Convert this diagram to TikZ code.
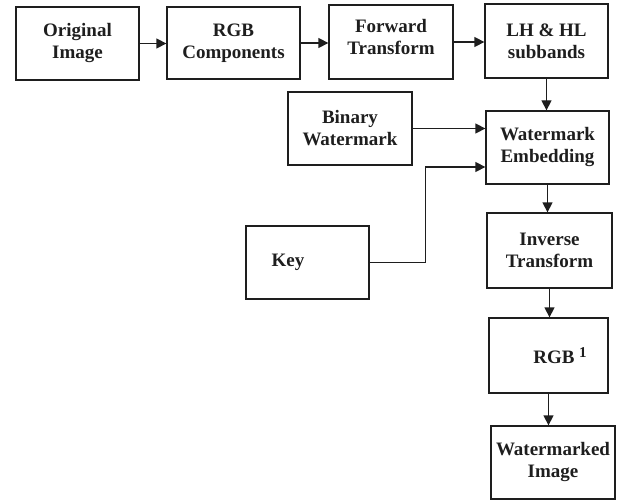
\documentclass[tikz,border=0pt]{standalone}
\usepackage{fontspec}
\setmainfont{Liberation Serif}
\usetikzlibrary{arrows.meta, positioning}
\definecolor{linegray}{RGB}{30,30,30}
\tikzset{
  blk/.style={draw=linegray, line width=1.3pt, align=center, text=linegray,
              font=\bfseries\fontsize{19}{22}\selectfont, inner sep=2pt},
  arr/.style={-{Triangle[length=10pt,width=10pt]}, line width=1.3pt, color=linegray},
}
\begin{document}
\begin{tikzpicture}[x=1pt, y=-1pt]
  \useasboundingbox (0,0) rectangle (618,500);
  % top row
  \node[blk, minimum width=123pt, minimum height=73pt] (orig) at (77.5,43.5) {Original\\Image};
  \node[blk, minimum width=133pt, minimum height=72pt] (rgb) at (233.5,43) {RGB\\Components};
  \node[blk, minimum width=124pt, minimum height=74pt] (fwd) at (391,42) {Forward\\Transform\\[-12pt]};
  \node[blk, minimum width=123pt, minimum height=74pt] (lhhl) at (546.5,41) {LH \& HL\\subbands};
  % inputs
  \node[blk, minimum width=124pt, minimum height=73pt] (bin) at (350,128.5) {Binary\\Watermark};
  \node[blk, minimum width=123pt, minimum height=73pt] (key) at (307.5,262.5) {Key\hspace*{39pt}};
  % right column
  \node[blk, minimum width=123pt, minimum height=73pt] (emb) at (547.5,147.5) {Watermark\\Embedding};
  \node[blk, minimum width=125pt, minimum height=75pt] (inv) at (549.5,250.5) {Inverse\\Transform};
  \node[blk, minimum width=119pt, minimum height=75pt] (rgbi) at (548.5,355.5)
        {\hspace*{23pt}RGB \raisebox{6pt}{\fontsize{15}{15}\selectfont 1}};
  \node[blk, minimum width=124pt, minimum height=73pt] (wmk) at (553,462.5) {Watermarked\\Image};

  \draw[arr] (orig.east) -- (orig.east -| rgb.west);
  \draw[arr] (rgb.east) -- (rgb.east -| fwd.west);
  \draw[arr] (fwd.east) -- (fwd.east -| lhhl.west);
  \draw[arr] (lhhl.south) -- (lhhl.south |- emb.north);
  \draw[arr] (bin.east) -- (bin.east -| emb.west);
  \draw[arr] (key.east) -- ++(56,0) |- ([yshift=-19.5pt]emb.west);
  \draw[arr] (emb.south) -- (emb.south |- inv.north);
  \draw[arr] (inv.south) -- (inv.south |- rgbi.north);
  \draw[arr] (rgbi.south) -- (rgbi.south |- wmk.north);
\end{tikzpicture}
\end{document}
